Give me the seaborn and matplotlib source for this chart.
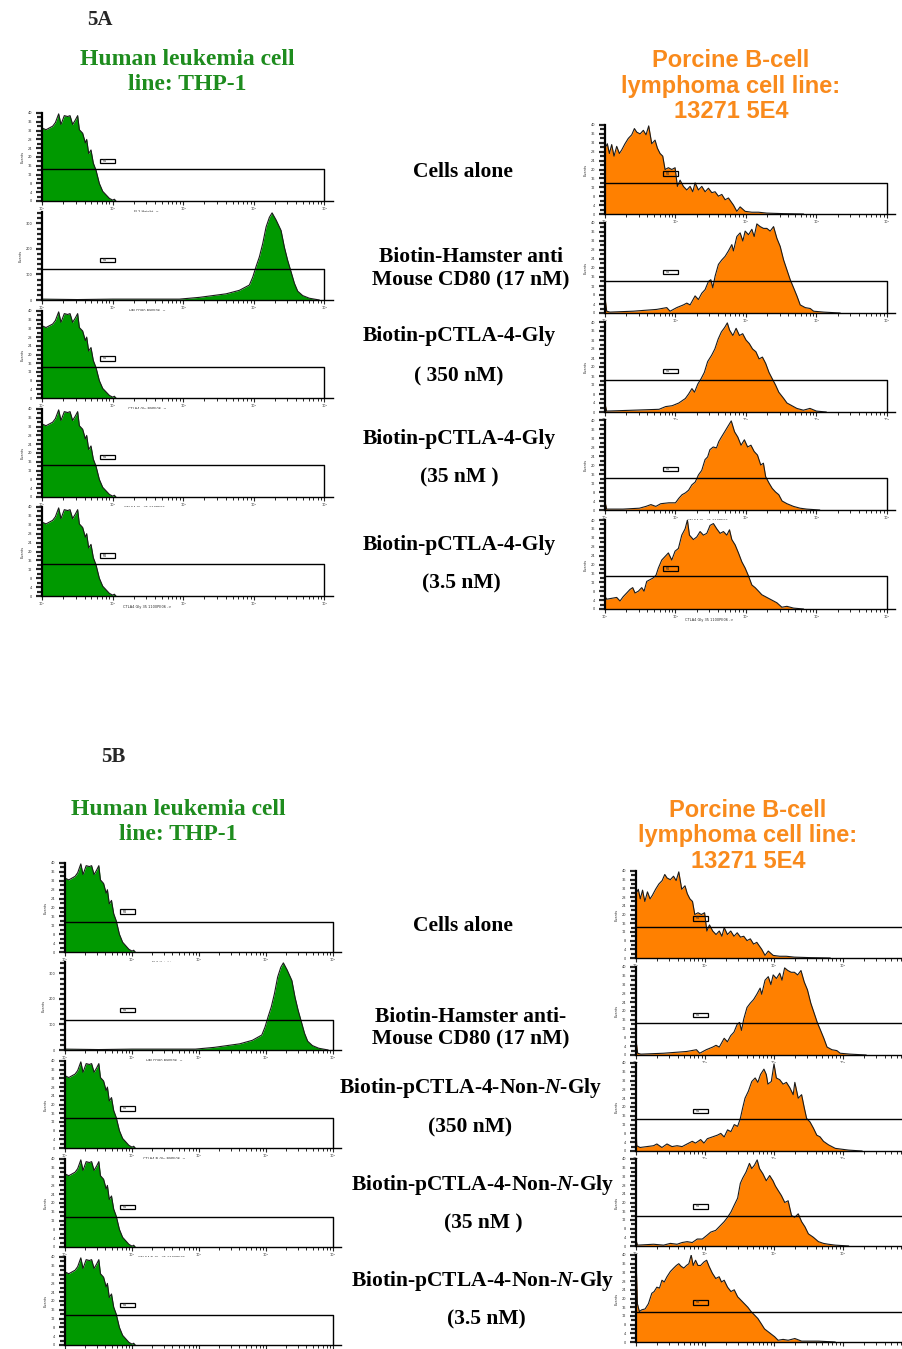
import numpy as np
import matplotlib
matplotlib.use("Agg")
import matplotlib.pyplot as plt
import seaborn as sns
from matplotlib.patches import Rectangle
from matplotlib.ticker import MultipleLocator, LogLocator, NullFormatter, FuncFormatter, FixedLocator

sns.set_style("white")
plt.rcParams['font.family'] = ['Liberation Serif', 'DejaVu Sans']
plt.rcParams['mathtext.fontset'] = 'custom'
plt.rcParams['mathtext.rm'] = 'Liberation Serif:bold'
plt.rcParams['mathtext.it'] = 'Liberation Serif:italic:bold'

# histogram profiles: x = log10 fluorescence (decades), y = relative events
green_neg_x = [0, 0.057, 0.104, 0.151, 0.189, 0.236, 0.269, 0.316, 0.364, 0.397, 0.434, 0.472, 0.505, 0.529,
               0.576, 0.614, 0.633, 0.661, 0.694, 0.727, 0.765, 0.812, 0.860, 0.907, 0.954, 1.001, 1.025, 1.048]
green_neg_y = [0.83, 0.81, 0.83, 0.85, 0.89, 0.99, 0.87, 0.97, 0.96, 0.97, 0.87, 0.92, 0.97, 0.81,
               0.77, 0.66, 0.70, 0.54, 0.58, 0.43, 0.35, 0.20, 0.11, 0.07, 0.03, 0.01, 0.02, 0]

green_pos_x = [0, 0.5, 1.0, 1.5, 1.946, 2.229, 2.418, 2.607, 2.796, 2.937, 2.985, 3.032, 3.079, 3.126,
               3.174, 3.221, 3.259, 3.315, 3.386, 3.433, 3.480, 3.528, 3.575, 3.622, 3.693, 3.787, 3.929]
green_pos_y = [0.01, 0.005, 0.01, 0.01, 0.01, 0.03, 0.05, 0.07, 0.11, 0.17, 0.26, 0.38, 0.49, 0.64,
               0.83, 0.94, 0.99, 0.91, 0.79, 0.60, 0.45, 0.32, 0.19, 0.10, 0.05, 0.02, 0]

orange_alone_x = [0, 0.033, 0.062, 0.095, 0.128, 0.166, 0.204, 0.237, 0.284, 0.331, 0.379, 0.417, 0.450, 0.497,
                  0.544, 0.582, 0.620, 0.663, 0.710, 0.743, 0.781, 0.819, 0.852, 0.899, 0.947, 0.994, 1.027,
                  1.065, 1.112, 1.160, 1.207, 1.245, 1.278, 1.325, 1.373, 1.420, 1.467, 1.515, 1.562, 1.609,
                  1.657, 1.704, 1.751, 1.822, 1.870, 1.917, 1.988, 2.083, 2.178, 2.296, 2.533, 2.817]
orange_alone_y = [0.74, 0.79, 0.68, 0.78, 0.65, 0.76, 0.68, 0.72, 0.79, 0.85, 0.89, 0.96, 0.92, 0.90,
                  0.94, 0.89, 0.99, 0.79, 0.83, 0.74, 0.68, 0.65, 0.50, 0.52, 0.50, 0.52, 0.31,
                  0.38, 0.31, 0.27, 0.31, 0.25, 0.35, 0.27, 0.31, 0.25, 0.29, 0.24, 0.25, 0.20,
                  0.22, 0.16, 0.18, 0.10, 0.03, 0.08, 0.03, 0.02, 0.02, 0.01, 0.004, 0]

orange_cd80_x = [0, 0.024, 0.071, 0.4, 0.734, 0.876, 0.923, 1.018, 1.112, 1.160, 1.207, 1.278, 1.325, 1.373,
                 1.420, 1.467, 1.501, 1.529, 1.562, 1.609, 1.657, 1.704, 1.751, 1.799, 1.822, 1.870, 1.917,
                 1.955, 1.988, 2.036, 2.083, 2.116, 2.154, 2.201, 2.249, 2.296, 2.343, 2.391, 2.438, 2.485,
                 2.533, 2.580, 2.627, 2.675, 2.722, 2.769, 2.840, 2.911, 2.959, 3.101, 3.337]
orange_cd80_y = [0.17, 0.02, 0.01, 0.02, 0.04, 0.06, 0.02, 0.06, 0.09, 0.11, 0.09, 0.19, 0.15, 0.22,
                 0.26, 0.35, 0.37, 0.28, 0.41, 0.54, 0.59, 0.63, 0.69, 0.76, 0.69, 0.85, 0.89,
                 0.80, 0.91, 0.87, 0.93, 0.85, 0.99, 0.96, 0.94, 0.94, 0.91, 0.96, 0.83, 0.74,
                 0.59, 0.48, 0.37, 0.28, 0.19, 0.09, 0.06, 0.05, 0.02, 0.01, 0]

orange_g350_x = [0, 0.023, 0.4, 0.767, 0.860, 0.953, 1.047, 1.140, 1.186, 1.233, 1.270, 1.316, 1.363, 1.409,
                 1.456, 1.512, 1.558, 1.605, 1.651, 1.698, 1.735, 1.767, 1.814, 1.860, 1.907, 1.953, 2.000,
                 2.047, 2.093, 2.140, 2.186, 2.233, 2.279, 2.326, 2.372, 2.419, 2.465, 2.535, 2.581, 2.651,
                 2.721, 2.814, 2.907, 3.000, 3.140]
orange_g350_y = [0.09, 0.01, 0.02, 0.03, 0.06, 0.07, 0.10, 0.15, 0.20, 0.26, 0.22, 0.31, 0.37, 0.44,
                 0.56, 0.63, 0.70, 0.81, 0.89, 0.94, 0.99, 0.91, 0.85, 0.93, 0.85, 0.87, 0.80,
                 0.76, 0.70, 0.67, 0.59, 0.61, 0.54, 0.44, 0.37, 0.30, 0.22, 0.15, 0.10, 0.07,
                 0.04, 0.02, 0.04, 0.01, 0]

orange_g35_x = [0, 0.023, 0.256, 0.488, 0.581, 0.651, 0.721, 0.791, 0.907, 1.000, 1.047, 1.093, 1.140, 1.186,
                1.233, 1.279, 1.326, 1.372, 1.419, 1.456, 1.488, 1.535, 1.581, 1.614, 1.651, 1.698, 1.744,
                1.791, 1.837, 1.884, 1.930, 1.977, 2.023, 2.070, 2.116, 2.163, 2.209, 2.247, 2.279, 2.326,
                2.372, 2.419, 2.465, 2.512, 2.581, 2.674, 2.767, 2.860, 3.047]
orange_g35_y = [0.09, 0.01, 0.01, 0.02, 0.04, 0.06, 0.04, 0.07, 0.08, 0.08, 0.13, 0.17, 0.19, 0.22,
                0.28, 0.31, 0.39, 0.44, 0.56, 0.59, 0.67, 0.70, 0.69, 0.76, 0.81, 0.87, 0.93,
                0.99, 0.87, 0.81, 0.72, 0.78, 0.70, 0.72, 0.65, 0.61, 0.50, 0.52, 0.37, 0.30,
                0.24, 0.20, 0.17, 0.10, 0.07, 0.04, 0.02, 0.01, 0]

orange_g3_x = [0, 0.024, 0.095, 0.166, 0.213, 0.260, 0.308, 0.355, 0.393, 0.426, 0.473, 0.521, 0.554, 0.592,
               0.639, 0.686, 0.724, 0.757, 0.805, 0.852, 0.899, 0.947, 0.994, 1.041, 1.089, 1.136, 1.169,
               1.198, 1.254, 1.302, 1.349, 1.396, 1.444, 1.491, 1.538, 1.586, 1.633, 1.680, 1.728, 1.766,
               1.799, 1.846, 1.893, 1.941, 1.988, 2.036, 2.083, 2.130, 2.178, 2.225, 2.296, 2.367, 2.438,
               2.509, 2.580, 2.675, 2.817]
orange_g3_y = [0.14, 0.11, 0.12, 0.13, 0.09, 0.14, 0.18, 0.22, 0.24, 0.18, 0.20, 0.24, 0.20, 0.31,
               0.33, 0.35, 0.38, 0.46, 0.55, 0.59, 0.63, 0.55, 0.65, 0.68, 0.83, 0.90, 1.00,
               0.83, 0.78, 0.81, 0.87, 0.83, 0.85, 0.94, 0.96, 0.90, 0.85, 0.87, 0.83, 0.89,
               0.78, 0.72, 0.63, 0.53, 0.46, 0.37, 0.27, 0.24, 0.20, 0.16, 0.13, 0.10, 0.07,
               0.02, 0.03, 0.01, 0]

orange_n350_x = [0, 0.010, 0.059, 0.156, 0.254, 0.302, 0.376, 0.449, 0.522, 0.595, 0.668, 0.741, 0.815, 0.863,
                 0.937, 0.985, 1.034, 1.107, 1.180, 1.229, 1.278, 1.327, 1.376, 1.424, 1.473, 1.512, 1.546,
                 1.580, 1.629, 1.678, 1.727, 1.766, 1.805, 1.854, 1.888, 1.912, 1.961, 2.000, 2.034, 2.083,
                 2.132, 2.180, 2.229, 2.278, 2.302, 2.351, 2.400, 2.439, 2.473, 2.522, 2.571, 2.620, 2.668,
                 2.717, 2.790, 2.888, 2.985, 3.083, 3.278]
orange_n350_y = [0.30, 0.06, 0.04, 0.05, 0.06, 0.08, 0.04, 0.08, 0.05, 0.06, 0.05, 0.08, 0.11, 0.09,
                 0.13, 0.09, 0.14, 0.16, 0.18, 0.20, 0.16, 0.24, 0.22, 0.30, 0.28, 0.37, 0.49,
                 0.60, 0.68, 0.79, 0.83, 0.78, 0.87, 0.93, 0.87, 0.76, 0.79, 0.99, 0.83, 0.81,
                 0.76, 0.78, 0.72, 0.64, 0.78, 0.60, 0.64, 0.49, 0.37, 0.33, 0.26, 0.18, 0.16,
                 0.11, 0.07, 0.03, 0.02, 0.01, 0]

orange_n35_x = [0, 0.020, 0.254, 0.400, 0.498, 0.595, 0.668, 0.741, 0.815, 0.888, 0.961, 1.024, 1.083, 1.156,
                1.205, 1.278, 1.327, 1.376, 1.424, 1.473, 1.512, 1.546, 1.595, 1.644, 1.678, 1.717, 1.756,
                1.790, 1.839, 1.888, 1.937, 1.985, 2.020, 2.059, 2.107, 2.156, 2.205, 2.254, 2.302, 2.351,
                2.400, 2.449, 2.498, 2.571, 2.644, 2.717, 2.790, 2.888, 3.083]
orange_n35_y = [0.07, 0.01, 0.02, 0.01, 0.03, 0.02, 0.04, 0.05, 0.04, 0.08, 0.08, 0.12, 0.16, 0.18,
                0.22, 0.28, 0.33, 0.39, 0.47, 0.55, 0.72, 0.78, 0.85, 0.95, 0.89, 0.93, 0.99,
                0.89, 0.83, 0.75, 0.81, 0.75, 0.69, 0.64, 0.58, 0.50, 0.52, 0.35, 0.33, 0.37,
                0.28, 0.22, 0.14, 0.10, 0.05, 0.03, 0.02, 0.01, 0]

orange_n3_x = [0, 0.020, 0.049, 0.083, 0.132, 0.180, 0.229, 0.263, 0.302, 0.341, 0.376, 0.410, 0.449, 0.498,
               0.546, 0.585, 0.620, 0.654, 0.693, 0.732, 0.766, 0.800, 0.829, 0.863, 0.898, 0.937, 0.985,
               1.024, 1.059, 1.107, 1.156, 1.205, 1.239, 1.278, 1.327, 1.376, 1.424, 1.473, 1.522, 1.571,
               1.620, 1.668, 1.717, 1.766, 1.815, 1.863, 1.912, 1.961, 2.010, 2.059, 2.132, 2.205, 2.302,
               2.400, 2.644, 2.888]
orange_n3_y = [0.98, 0.44, 0.35, 0.37, 0.38, 0.44, 0.56, 0.58, 0.63, 0.62, 0.71, 0.69, 0.75, 0.81,
               0.85, 0.88, 0.90, 0.87, 0.85, 0.88, 0.90, 1.00, 0.88, 0.94, 0.88, 0.88, 0.92,
               0.94, 0.87, 0.79, 0.73, 0.75, 0.69, 0.71, 0.63, 0.58, 0.60, 0.52, 0.48, 0.44,
               0.40, 0.35, 0.31, 0.27, 0.21, 0.15, 0.12, 0.09, 0.06, 0.02, 0.03, 0.02, 0.04,
               0.01, 0.01, 0]

xlabels_a = ["FL2-Height ->", "HM CD80 BSPE06 ->", "CTLA4 Gly BSPE06 ->",
             "CTLA4 Gly 35 110PE06 ->", "CTLA4 Gly 35 1100PE06 ->"]
xlabels_b = ["FL2-Height ->", "HM CD80 BSPE06 ->", "CTLA4 N-Gly BSPE06 ->",
             "CTLA4 N-Gly 35 1100PE06 ->", ""]
decade_labels = ["10⁰", "10¹", "10²", "10³", "10⁴"]

left_a = [(green_neg_x, green_neg_y, 0.36), (green_pos_x, green_pos_y, 0.35),
          (green_neg_x, green_neg_y, 0.36), (green_neg_x, green_neg_y, 0.36),
          (green_neg_x, green_neg_y, 0.36)]
right_a = [(orange_alone_x, orange_alone_y, 0.35), (orange_cd80_x, orange_cd80_y, 0.36),
           (orange_g350_x, orange_g350_y, 0.36), (orange_g35_x, orange_g35_y, 0.36),
           (orange_g3_x, orange_g3_y, 0.37)]
left_b = [(green_neg_x, green_neg_y, 0.34), (green_pos_x, green_pos_y, 0.34),
          (green_neg_x, green_neg_y, 0.34), (green_neg_x, green_neg_y, 0.34),
          (green_neg_x, green_neg_y, 0.34)]
right_b = [(orange_alone_x, orange_alone_y, 0.36), (orange_cd80_x, orange_cd80_y, 0.36),
           (orange_n350_x, orange_n350_y, 0.365), (orange_n35_x, orange_n35_y, 0.35),
           (orange_n3_x, orange_n3_y, 0.35)]

GREEN = "#009900"
ORANGE = "#ff8000"
GREEN_TXT = "#1e8c1e"
ORANGE_TXT = "#f98a1c"

W, H = 903, 1349
fig = plt.figure(figsize=(W / 100, H / 100), dpi=100)


def hist_panel(x0, top, bottom, per_dec, xs, ys, color, gate, xlab, sparse=False, cut=False, edge=False):
    ax = fig.add_axes([x0 / W, 1 - bottom / H, per_dec * 4.12 / W, (bottom - top) / H])
    vals = np.power(10.0, np.array(xs))
    ys = np.array(ys)
    ax.fill_between(vals, 0, ys, color=color, lw=0)
    sns.lineplot(x=vals, y=ys, ax=ax, color="#1a1a1a", lw=0.8)
    ax.plot([1, 1e4, 1e4], [gate, gate, 0], color="black", lw=1.0)
    ax.add_patch(Rectangle((10 ** 0.82, 0.43), 10 ** 1.04 - 10 ** 0.82, 0.05,
                           fill=False, ec="black", lw=0.9))
    ax.text(10 ** 0.86, 0.455, "M1", fontsize=2, va="center", family="DejaVu Sans")
    ax.set_xscale("log")
    ax.set_xlim(1, 10 ** 4.12)
    ax.set_ylim(0, 1)
    # the right-hand 5B panels run off the page, so their last decade is not shown
    ticks = [1, 10, 100, 1000] if cut else [1, 10, 100, 1000, 10000]
    ax.xaxis.set_major_locator(FixedLocator(ticks))
    ax.xaxis.set_minor_locator(LogLocator(base=10, subs=np.arange(2, 10), numticks=12))
    ax.xaxis.set_minor_formatter(NullFormatter())
    # bottom row of 5B sits on the page edge: its tick labels are not visible there
    ax.set_xticklabels([""] * len(ticks) if edge else decade_labels[:len(ticks)])
    if sparse:
        ax.yaxis.set_major_locator(MultipleLocator(0.29))
        ax.yaxis.set_minor_locator(MultipleLocator(0.058))
        ax.yaxis.set_major_formatter(FuncFormatter(lambda v, p: "%d" % round(v / 0.29 * 100)))
    else:
        ax.yaxis.set_major_locator(MultipleLocator(0.1))
        ax.yaxis.set_minor_locator(MultipleLocator(0.05))
        ax.yaxis.set_major_formatter(FuncFormatter(lambda v, p: "%d" % round(v * 40)))
    ax.tick_params(axis="y", which="major", length=4, width=1.6, labelsize=2.5, pad=3, direction="out", left=True)
    ax.tick_params(axis="y", which="minor", length=3.5, width=1.6, direction="out", left=True)
    ax.tick_params(axis="x", which="major", length=3, width=0.8, labelsize=2.5, pad=1, direction="out", bottom=True)
    ax.tick_params(axis="x", which="minor", length=2, width=0.7, direction="out", bottom=True)
    for lbl in ax.get_xticklabels() + ax.get_yticklabels():
        lbl.set_family("DejaVu Sans")
    for s in ["top", "right"]:
        ax.spines[s].set_visible(False)
    for s in ["left", "bottom"]:
        ax.spines[s].set_color("black")
    ax.spines["left"].set_linewidth(1.6)
    ax.spines["bottom"].set_linewidth(1.0)
    if xlab:
        ax.set_xlabel(xlab, fontsize=2.5, labelpad=1, family="DejaVu Sans")
        ax.xaxis.set_label_coords(0.36, -0.1)
    ax.set_ylabel("Events", fontsize=2.5, labelpad=2, family="DejaVu Sans")
    ax.grid(False)
    return ax


rows_la = [(113, 201), (212, 300), (311, 398), (409, 497), (507, 596)]
rows_ra = [(125, 214), (223, 313), (322, 412), (420, 510), (520, 609)]
rows_lb = [(863, 952), (962, 1050), (1061, 1148), (1159, 1247), (1257, 1345)]
rows_rb = [(871, 958), (967, 1055), (1063, 1151), (1159, 1246), (1255, 1342)]

for i in range(5):
    last = (i == 4)
    xs, ys, g = left_a[i]
    hist_panel(42, rows_la[i][0], rows_la[i][1], 70.6, xs, ys, GREEN, g, xlabels_a[i], sparse=(i == 1))
    xs, ys, g = right_a[i]
    hist_panel(605, rows_ra[i][0], rows_ra[i][1], 70.5, xs, ys, ORANGE, g, xlabels_a[i])
    xs, ys, g = left_b[i]
    hist_panel(65, rows_lb[i][0], rows_lb[i][1], 67.0, xs, ys, GREEN, g, xlabels_b[i],
               sparse=(i == 1), edge=last)
    xs, ys, g = right_b[i]
    hist_panel(636, rows_rb[i][0], rows_rb[i][1], 69.0, xs, ys, ORANGE, g, xlabels_b[i],
               cut=True, edge=last)


def ftext(x, y, s, **kw):
    fig.text(x / W, 1 - y / H, s, ha="center", va="center", **kw)


lab = dict(fontsize=15.5, fontweight="bold", color="black", linespacing=1.2)

ftext(100, 20, "5A", fontsize=15, fontweight="bold")
ftext(187, 72, "Human leukemia cell\nline: THP-1", fontsize=17, fontweight="bold", color=GREEN_TXT,
      linespacing=1.2)
ftext(731, 86, "Porcine B-cell\nlymphoma cell line:\n13271 5E4", fontsize=17, fontweight="bold",
      color=ORANGE_TXT, family="Liberation Sans", linespacing=1.15)
ftext(463, 172, "Cells alone", **lab)
ftext(471, 269, "Biotin-Hamster anti\nMouse CD80 (17 nM)", **lab)
ftext(459, 336, "Biotin-pCTLA-4-Gly", **lab)
ftext(459, 376, "( 350 nM)", **lab)
ftext(459, 439, "Biotin-pCTLA-4-Gly", **lab)
ftext(459, 477, "(35 nM )", **lab)
ftext(459, 545, "Biotin-pCTLA-4-Gly", **lab)
ftext(461, 583, "(3.5 nM)", **lab)

ftext(113, 757, "5B", fontsize=15, fontweight="bold")
ftext(178, 822, "Human leukemia cell\nline: THP-1", fontsize=17, fontweight="bold", color=GREEN_TXT,
      linespacing=1.2)
ftext(748, 836, "Porcine B-cell\nlymphoma cell line:\n13271 5E4", fontsize=17, fontweight="bold",
      color=ORANGE_TXT, family="Liberation Sans", linespacing=1.15)
ftext(463, 926, "Cells alone", **lab)
ftext(471, 1028, "Biotin-Hamster anti-\nMouse CD80 (17 nM)", **lab)
ftext(471, 1088, "Biotin-pCTLA-4-Non-$\\mathit{N}$-Gly", **lab)
ftext(470, 1127, "(350 nM)", **lab)
ftext(483, 1185, "Biotin-pCTLA-4-Non-$\\mathit{N}$-Gly", **lab)
ftext(483, 1223, "(35 nM )", **lab)
ftext(483, 1281, "Biotin-pCTLA-4-Non-$\\mathit{N}$-Gly", **lab)
ftext(486, 1319, "(3.5 nM)", **lab)

fig.savefig("out.png", dpi=100)
